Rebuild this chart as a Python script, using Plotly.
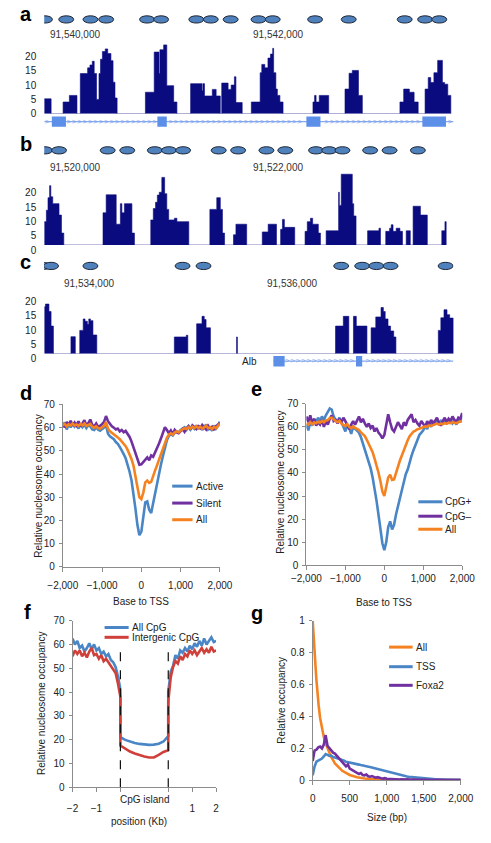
import plotly.graph_objects as go
import numpy as np

W, H = 491, 843
FONT = "Liberation Sans, Arial, sans-serif"
TXT = "#222222"
AXC = "#8c8c8c"
NAVY = "#0b0b80"
NUC_FILL = "#4f81bd"
NUC_LINE = "#1f2633"
EXON_C = "#5b8fe8"
INTRON_C = "#86aaf0"
BLUE = "#4a86c5"
PURPLE = "#7030a0"
ORANGE = "#f58220"
RED = "#d0403a"
LW = 2.6

# ======================= DATA =======================
# --- panel a : nucleosome read depth, chr position offsets (bp) from A_BASE
A_BASE = 91_540_000
a_edges = [-307, -239, -121, -59, 16, 49, 121, 144, 167, 186, 209, 233, 248, 267, 295, 319, 351, 372, 391, 412,
           691, 778, 825, 834, 871, 902, 970, 1002, 1137, 1249, 1258, 1274, 1351, 1389, 1430, 1444, 1507, 1537,
           1569, 1584, 1646, 1736, 1823, 1839, 1869, 1900, 1925, 1947, 1956, 1978, 1993, 2018, 2049, 2344, 2360,
           2375, 2406, 2499, 2660, 2700, 2732, 2793, 2831, 3202, 3239, 3295, 3342, 3382, 3450, 3481, 3506, 3537,
           3574, 3621, 3643, 3674, 3704]
a_heights = [5.2, 0, 4.1, 6.4, 0, 14, 16, 17, 18.3, 14, 5, 14, 19, 21.7, 22.6, 21, 18.5, 11, 5.5, 0,
             7.5, 21.5, 14, 22.3, 24, 9.8, 4.1, 0, 10.5, 8, 10.5, 6.2, 8.5, 6.2, 0, 10.7, 8.5, 10,
             12.9, 3.9, 0, 4.1, 14.3, 17.2, 16, 19.4, 20.8, 22.8, 14.3, 8.6, 6.4, 4.1, 0, 4.1, 6.4,
             4.1, 6.4, 0, 8.6, 14.1, 15.1, 6.4, 0, 4.1, 8.6, 7.5, 4.1, 0, 8.6, 12.6, 10.9, 14.3,
             18.6, 10.9, 10.3, 6.4]
a_nucleosomes = [-300, -90, 149, 304, 707, 846, 1193, 1336, 1532, 1807, 1947, 2365, 2697, 3249, 3450, 3590]
a_gene = [-307, 3730]
a_exon_start = [-232, 809, 2279, 3423]
a_exon_end = [-93, 902, 2418, 3656]

# --- panel b
B_BASE = 91_520_000
b_edges = [-307, -286, -270, -254, -242, -223, -161, -137, -114, 273, 304, 403, 444, 459, 484, 558, 583,
           744, 769, 791, 809, 828, 853, 881, 902, 921, 977, 1002, 1119, 1327, 1395, 1430, 1451, 1472,
           1560, 1584, 1690, 1844, 1902, 1984, 2025, 2043, 2062, 2164, 2266, 2288, 2319, 2341, 2397, 2418,
           2474, 2597, 2604, 2623, 2732, 2746, 2769, 2883, 2995, 3010, 3062, 3100, 3116, 3134, 3165, 3202,
           3227, 3264, 3304, 3332, 3404, 3472, 3615, 3646, 3658]
b_heights = [8.2, 12.2, 16.6, 20.8, 16.9, 14.5, 10.5, 4.2, 0, 11.3, 17.6, 7.3, 14.5, 11.3, 14.5, 4.2, 0,
             8.8, 12.8, 15, 17.5, 18.5, 23.7, 18, 12.5, 8.8, 9.4, 8.2, 0, 12.5, 16.6, 12.5, 4.2, 0,
             3.6, 7.3, 0, 4.6, 7.3, 0, 5.5, 9, 6.2, 0, 4.8, 8.2, 9.4, 7.3, 4.2, 0,
             5, 18.5, 13.9, 24.8, 14.5, 10.2, 0, 5, 5.9, 0, 4.8, 5.9, 7.1, 4.8, 5.9, 4.8,
             0, 5, 0, 13.6, 10.5, 0, 5, 8.2]
b_nucleosomes = [-300, -161, 319, 512, 784, 923, 1063, 1414, 1606, 1885, 2071, 2374, 2504, 2635, 2908, 3100, 3379]

# --- panel c
C_BASE = 91_534_000
c_edges = [-446, -434, -400, -379, -356, -183, -140, -96, -62, -44, -21, -7, 9, 34, 72, 837, 955, 970,
           1057, 1110, 1132, 1150, 1193, 1451, 1459, 2427, 2504, 2558, 2604, 2632, 2737, 2778, 2824, 2876,
           2899, 2917, 2945, 2970, 3001, 3023, 3441, 3466, 3497, 3527, 3553, 3590]
c_heights = [16.5, 17.4, 14.8, 9.7, 0, 6, 0, 8.2, 12.2, 11.4, 10.3, 12.2, 11.6, 6.6, 0, 5.9, 6.5,
             0, 10.5, 13.1, 12, 9.1, 0, 5.9, 0, 9.7, 13.1, 0, 13.1, 9.7, 0, 9.1, 12.9, 16.2,
             14.8, 12.2, 9.7, 8, 5.9, 0, 8.2, 12.6, 15.4, 13.7, 12.5]
c_nucleosomes = [-462, -379, 9, 918, 1125, 2483, 2690, 2830, 2970, 3513]
c_gene = [1814, 3590]
c_exon_start = [1814, 2629]
c_exon_end = [1925, 2690]
c_gene_name = "Alb"

track_ticks = [0, 5, 10, 15, 20]
NUC_BP = 147

# --- panels d / e : occupancy around TSS
tss_x = list(range(-2000, 2001, 50))
d_active = [60.5, 62.3, 59.2, 61.6, 60.1, 62.0, 60.4, 61.2, 59.6, 61.8,
            60.2, 61.3, 59.8, 61.0, 60.6, 59.3, 59.0, 60.2, 59.1, 58.7,
            59.4, 60.0, 61.2, 57.4, 56.3, 55.6, 55.0, 53.8, 53.0, 51.7,
            50.4, 48.6, 46.8, 44.2, 41.0, 37.2, 32.0, 25.0, 18.0, 13.6,
            15.2, 21.5, 27.8, 28.2, 24.6, 23.2, 27.5, 32.5, 36.8, 40.6,
            44.2, 47.8, 51.5, 54.6, 56.4, 57.2, 56.6, 57.8, 58.4, 57.9,
            59.0, 59.6, 60.2, 59.1, 60.6, 59.2, 60.4, 59.5, 61.0, 59.4,
            60.9, 59.0, 60.1, 61.4, 59.2, 60.0, 58.6, 61.0, 59.6, 60.8,
            62.6]
d_silent = [61.5, 60.2, 62.5, 61.0, 63.0, 60.8, 62.2, 61.0, 62.8, 60.5,
            61.8, 63.2, 61.0, 62.0, 63.5, 61.2, 60.5, 61.8, 60.2, 60.8,
            61.5, 62.5, 65.0, 62.8, 61.5, 60.6, 60.0, 59.2, 59.6, 58.4,
            59.0, 58.0, 58.6, 57.4, 56.0, 54.0, 51.6, 48.8, 46.2, 44.0,
            44.2, 45.2, 46.4, 47.2, 46.0, 48.0, 47.4, 49.2, 51.0, 53.2,
            55.4, 57.8, 60.2, 59.0, 57.6, 58.8, 57.2, 59.0, 58.0, 57.6,
            58.6, 59.4, 58.2, 59.8, 60.6, 59.2, 61.0, 60.0, 59.4, 60.6,
            59.8, 61.2, 60.0, 59.2, 60.8, 59.6, 60.4, 59.0, 60.6, 61.4,
            62.0]
d_all = [61.0, 61.6, 60.6, 61.4, 61.0, 61.8, 61.0, 61.4, 60.8, 61.6,
         61.0, 61.8, 60.8, 61.2, 61.6, 60.4, 60.0, 60.6, 59.8, 59.6,
         60.2, 60.8, 62.4, 59.6, 58.4, 57.8, 57.2, 56.4, 55.8, 55.0,
         54.0, 53.0, 52.0, 50.4, 48.6, 46.4, 43.6, 39.6, 34.4, 30.0,
         29.2, 32.0, 36.4, 37.2, 36.2, 36.6, 39.4, 41.6, 43.8, 46.2,
         48.6, 51.0, 53.4, 55.6, 57.0, 57.6, 57.0, 58.0, 58.4, 58.0,
         58.8, 59.4, 59.8, 59.4, 60.2, 59.6, 60.4, 59.8, 60.6, 59.8,
         60.4, 59.6, 60.2, 60.8, 59.8, 60.2, 59.4, 60.4, 59.8, 60.6,
         61.8]
e_cpg_pos = [61.0, 58.5, 62.0, 60.5, 63.5, 62.0, 64.0, 62.5, 64.5, 63.0,
             65.0, 66.5, 68.0, 67.5, 64.5, 63.0, 62.5, 64.0, 61.5, 60.0,
             58.0, 61.0, 59.5, 57.0, 60.0, 59.0, 58.0, 57.5, 55.5, 53.0,
             50.5, 47.5, 45.0, 42.0, 38.0, 33.5, 28.0, 22.0, 15.5, 9.5,
             6.5, 10.0, 16.5, 19.0, 15.5, 17.5, 22.0, 26.0, 28.5, 32.5,
             36.0, 39.5, 41.5, 45.0, 47.5, 50.0, 52.5, 55.0, 56.5, 57.5,
             58.5, 60.5, 59.0, 61.5, 60.0, 62.5, 61.0, 63.0, 61.5, 62.5,
             61.0, 63.0, 61.5, 62.0, 63.5, 61.5, 62.5, 61.0, 63.0, 62.0,
             65.0]
e_cpg_neg = [64.5, 62.0, 65.0, 61.5, 63.5, 60.5, 62.0, 61.0, 63.0, 60.0,
             62.5, 61.0, 63.5, 65.0, 62.5, 63.0, 61.5, 63.5, 62.0, 64.0,
             62.5, 60.5, 59.0, 61.0, 62.5, 61.0, 63.0, 64.5, 62.0, 63.5,
             61.5, 60.0, 61.5, 59.5, 60.5, 58.0, 59.5, 57.5, 56.5, 55.0,
             56.5, 60.5, 65.5, 62.0, 59.0, 58.0, 60.5, 62.0, 60.5, 59.0,
             62.0, 60.5, 63.0, 64.5, 65.5, 62.0, 63.0, 61.5, 60.5, 62.5,
             61.0, 60.0, 62.5, 61.0, 63.0, 61.5, 62.5, 64.0, 62.0, 60.5,
             62.5, 64.0, 62.0, 63.5, 62.5, 64.5, 63.0, 62.0, 64.0, 63.5,
             66.0]
e_all = [61.5, 61.0, 62.0, 61.2, 62.0, 61.6, 62.2, 61.8, 62.6, 62.0,
         62.8, 63.0, 63.8, 64.0, 63.2, 62.6, 62.0, 62.6, 61.4, 60.8,
         60.4, 61.2, 60.0, 59.4, 60.2, 59.6, 59.0, 58.6, 57.6, 56.6,
         56.0, 54.4, 52.8, 51.0, 49.0, 46.2, 43.6, 40.2, 36.4, 32.0,
         30.0, 33.6, 38.0, 39.2, 37.0, 37.2, 40.2, 43.0, 45.4, 47.6,
         50.0, 52.2, 54.2, 56.0, 57.2, 58.0, 58.4, 59.0, 59.2, 59.6,
         59.8, 60.2, 60.0, 60.6, 60.4, 60.8, 61.0, 61.4, 61.0, 61.4,
         61.2, 61.6, 61.4, 61.8, 61.6, 62.0, 61.8, 61.6, 62.0, 62.2,
         62.6]

# --- panel f : occupancy around CpG islands (flanks in kb, island as fraction of its length)
f_left_kb = [-2.0, -1.9, -1.8, -1.7, -1.6, -1.5, -1.4, -1.3, -1.2, -1.1, -1.0,
             -0.9, -0.8, -0.7, -0.6, -0.5, -0.4, -0.3, -0.2, -0.1, 0.0]
f_island_frac = [0.0, 0.1, 0.2, 0.3, 0.4, 0.5, 0.6, 0.7, 0.8, 0.9, 1.0]
f_right_kb = [0.0, 0.1, 0.2, 0.3, 0.4, 0.5, 0.6, 0.7, 0.8, 0.9, 1.0,
              1.1, 1.2, 1.3, 1.4, 1.5, 1.6, 1.7, 1.8, 1.9, 2.0]
f_all_left = [62.5, 60.0, 61.5, 58.5, 59.5, 57.0, 58.5, 60.5, 58.0, 60.0, 57.5,
              58.5, 56.0, 57.0, 55.0, 56.0, 53.5, 52.5, 50.5, 46.5, 41.0]
f_all_island = [21.0, 19.9, 19.2, 18.6, 18.2, 17.9, 17.8, 17.9, 18.3, 19.2, 21.5]
f_all_right = [40.0, 48.5, 51.0, 55.5, 54.0, 57.5, 56.5, 58.5, 57.0, 59.5, 58.0,
               60.5, 59.0, 61.5, 59.5, 62.5, 60.0, 61.5, 63.0, 61.0, 61.5]
f_int_left = [55.0, 57.5, 56.0, 57.5, 55.0, 56.5, 54.5, 57.0, 58.5, 55.5, 56.0,
              54.0, 55.5, 53.0, 54.0, 52.5, 51.0, 49.5, 48.0, 43.5, 38.0]
f_int_island = [17.5, 16.2, 15.0, 14.2, 13.4, 12.9, 12.5, 12.5, 13.6, 14.8, 15.6]
f_int_right = [36.0, 46.0, 50.5, 53.0, 52.0, 55.0, 53.5, 56.0, 55.0, 57.5, 56.0,
               57.5, 55.5, 57.0, 58.5, 56.5, 58.0, 56.5, 59.0, 57.0, 57.5]

# --- panel g : fragment size distributions
g_all_x = [0, 10, 20, 30, 40, 50, 60, 80, 100, 125, 150, 175, 200, 250, 300, 350, 400,
           500, 600, 700, 800, 1000, 1200, 1500, 2000]
g_all = [1.0, 0.9, 0.84, 0.78, 0.7, 0.63, 0.56, 0.47, 0.39, 0.32, 0.27, 0.23, 0.2, 0.145, 0.105,
         0.078, 0.058, 0.032, 0.018, 0.01, 0.006, 0.003, 0.0015, 0.0007, 0.0]
g_x = list(range(0, 2001, 25))
g_tss = [0.03, 0.085, 0.115, 0.12, 0.128, 0.135, 0.148, 0.163, 0.158, 0.152,
         0.154, 0.145, 0.142, 0.138, 0.135, 0.133, 0.125, 0.122, 0.115, 0.113,
         0.11, 0.108, 0.104, 0.102, 0.1, 0.097, 0.094, 0.092, 0.091, 0.086,
         0.087, 0.083, 0.079, 0.076, 0.073, 0.068, 0.065, 0.061, 0.058, 0.054,
         0.051, 0.049, 0.046, 0.044, 0.041, 0.038, 0.035, 0.031, 0.029, 0.027,
         0.024, 0.022, 0.02, 0.019, 0.016, 0.014, 0.013, 0.012, 0.01, 0.009,
         0.008, 0.008, 0.007, 0.007, 0.006, 0.006, 0.005, 0.005, 0.004, 0.004,
         0.003, 0.003, 0.003, 0.002, 0.002, 0.002, 0.001, 0.001, 0.001, 0.001,
         0.001]
g_foxa2 = [0.12, 0.185, 0.19, 0.205, 0.21, 0.198, 0.222, 0.282, 0.215, 0.198,
           0.188, 0.172, 0.166, 0.152, 0.142, 0.13, 0.112, 0.1, 0.086, 0.098,
           0.072, 0.066, 0.058, 0.05, 0.047, 0.038, 0.044, 0.032, 0.03, 0.035,
           0.024, 0.021, 0.025, 0.018, 0.015, 0.018, 0.012, 0.011, 0.009, 0.012,
           0.008, 0.007, 0.009, 0.006, 0.005, 0.006, 0.004, 0.004, 0.005, 0.003,
           0.003, 0.004, 0.002, 0.002, 0.003, 0.002, 0.001, 0.002, 0.001, 0.001,
           0.002, 0.001, 0.001, 0.001, 0.0, 0.001, 0.0, 0.001, 0.0, 0.0,
           0.001, 0.0, 0.0, 0.0, 0.0, 0.0, 0.0, 0.0, 0.0, 0.0,
           0.0]

# ======================= LAYOUT HELPERS =======================
def fx(p):
    return p / W

def fy(p):
    return 1 - p / H

def xdom(a, b):
    return [a / W, b / W]

def ydom(top, bot):
    return [1 - bot / H, 1 - top / H]

TICKFONT = dict(family=FONT, size=10, color=TXT)
BP_PER_PX = 2000 / 215.0
TRACK_L, TRACK_R = 31, 465

fig = go.Figure()
layout = dict(width=W, height=H, margin=dict(l=0, r=0, t=0, b=0, pad=0),
              paper_bgcolor="white", plot_bgcolor="white", showlegend=False,
              font=dict(family=FONT, size=10, color=TXT))
shapes, annotations = [], []

tracks = [
    dict(key="a", base=A_BASE, base_px=64, edges=a_edges, heights=a_heights, nucs=a_nucleosomes,
         xa="x", ya="y", ga="y2", baseline=110, unit=2.93, ymax=25, shift=0, nuc_y=13.7, lab_y=29,
         gene=a_gene, ex0=a_exon_start, ex1=a_exon_end, gene_y=118, name=None),
    dict(key="b", base=B_BASE, base_px=64, edges=b_edges, heights=b_heights, nucs=b_nucleosomes,
         xa="x2", ya="y3", ga=None, baseline=244, unit=2.915, ymax=25.5, shift=5, nuc_y=147.3, lab_y=165,
         gene=None),
    dict(key="c", base=C_BASE, base_px=79, edges=c_edges, heights=c_heights, nucs=c_nucleosomes,
         xa="x3", ya="y4", ga="y5", baseline=355, unit=2.92, ymax=21, shift=5, nuc_y=265.3, lab_y=283.3,
         gene=c_gene, ex0=c_exon_start, ex1=c_exon_end, gene_y=362.5, name=c_gene_name),
]

def axkey(a):
    return a[0] + "axis" + a[1:]

for t in tracks:
    base = t["base"]
    xr = [base + (TRACK_L - t["base_px"]) * BP_PER_PX, base + (TRACK_R - t["base_px"]) * BP_PER_PX]
    layout[axkey(t["xa"])] = dict(domain=xdom(TRACK_L, TRACK_R), range=xr, visible=False,
                                  anchor=t["ya"], fixedrange=True)
    top = t["baseline"] - t["ymax"] * t["unit"]
    layout[axkey(t["ya"])] = dict(domain=ydom(top, t["baseline"]), range=[0, t["ymax"]], anchor=t["xa"],
                                  showgrid=False, zeroline=False, showline=False, ticks="",
                                  tickvals=track_ticks, tickfont=TICKFONT, ticklabelstandoff=7,
                                  ticklabelshift=int(t["shift"]))
    xs = [base + e for e in t["edges"]]
    ys = list(t["heights"]) + [0]
    fig.add_trace(go.Scatter(x=xs, y=ys, mode="lines", line_shape="hv", fill="tozeroy",
                             fillcolor=NAVY, line=dict(color=NAVY, width=0.6),
                             xaxis=t["xa"], yaxis=t["ya"], hoverinfo="skip"))
    for c in t["nucs"]:
        shapes.append(dict(type="circle", xref=t["xa"], yref="paper",
                           x0=base + c - NUC_BP / 2, x1=base + c + NUC_BP / 2,
                           y0=fy(t["nuc_y"] + 3.7), y1=fy(t["nuc_y"] - 3.7),
                           fillcolor=NUC_FILL, line=dict(color=NUC_LINE, width=1)))
    for off in (0, 2000):
        annotations.append(dict(xref=t["xa"], yref="paper", x=base + off, y=fy(t["lab_y"]),
                                text=f"{base + off:,}", showarrow=False, xanchor="center",
                                yanchor="middle", font=dict(family=FONT, size=10, color="#333")))
    if t["gene"] is not None:
        ga = t["ga"]
        layout[axkey(ga)] = dict(domain=ydom(t["gene_y"] - 6.5, t["gene_y"] + 6.5), range=[-1, 1],
                                 visible=False, anchor=t["xa"], fixedrange=True)
        g0, g1 = base + t["gene"][0], base + t["gene"][1]
        fig.add_trace(go.Scatter(x=[g0, g1], y=[0, 0], mode="lines",
                                 line=dict(color=INTRON_C, width=1.2),
                                 xaxis=t["xa"], yaxis=ga, hoverinfo="skip"))
        ex0 = [base + v for v in t["ex0"]]
        ex1 = [base + v for v in t["ex1"]]
        chev = [float(v) for v in np.arange(g0 + 30, g1 - 10, 53)
                if not any(a - 20 <= v <= b + 20 for a, b in zip(ex0, ex1))]
        fig.add_trace(go.Scatter(x=chev, y=[0] * len(chev), mode="text", text=[">"] * len(chev),
                                 textfont=dict(family=FONT, size=8, color="#7ea3ec"),
                                 xaxis=t["xa"], yaxis=ga, hoverinfo="skip"))
        for a, b in zip(ex0, ex1):
            shapes.append(dict(type="rect", xref=t["xa"], yref=ga, x0=a, x1=b, y0=-0.82, y1=0.82,
                               fillcolor=EXON_C, line=dict(width=0), layer="above"))
        if t.get("name"):
            annotations.append(dict(xref=t["xa"], yref="paper", x=g0, y=fy(t["gene_y"]),
                                    text=t["name"], showarrow=False, xanchor="right", xshift=-14,
                                    yanchor="middle", font=dict(family=FONT, size=10, color="#222")))

# ---------------- line-chart panels ----------------
def chart_axes(xa, ya, xd, yd, xr, yr, xt, yt, xtext=None, xfmt=None, xstand=0, ystand=2):
    xax = dict(domain=xd, range=xr, anchor=ya, showline=True, linecolor=AXC, linewidth=1,
               ticks="outside", ticklen=4, tickcolor=AXC, tickwidth=1, showgrid=False, zeroline=False,
               tickvals=xt, tickfont=TICKFONT, ticklabelstandoff=int(xstand), fixedrange=True)
    if xtext is not None:
        xax["ticktext"] = xtext
    if xfmt:
        xax["tickformat"] = xfmt
    yax = dict(domain=yd, range=yr, anchor=xa, showline=True, linecolor=AXC, linewidth=1,
               ticks="outside", ticklen=3, tickcolor=AXC, tickwidth=1, showgrid=False, zeroline=False,
               tickvals=yt, tickfont=TICKFONT, ticklabelstandoff=int(ystand), fixedrange=True)
    layout[axkey(xa)] = xax
    layout[axkey(ya)] = yax

occ_ticks = [0, 10, 20, 30, 40, 50, 60, 70]
tss_ticks = [-2000, -1000, 0, 1000, 2000]

chart_axes("x4", "y6", xdom(50.7, 217.3), ydom(406.7, 572.3), [-2000, 2000], [0, 70],
           tss_ticks, occ_ticks, xfmt=",", xstand=5)
for y, col in ((d_active, BLUE), (d_silent, PURPLE), (d_all, ORANGE)):
    fig.add_trace(go.Scatter(x=tss_x, y=y, mode="lines", line=dict(color=col, width=LW),
                             xaxis="x4", yaxis="y6", hoverinfo="skip"))

chart_axes("x5", "y7", xdom(309, 474.3), ydom(406, 570.7), [-2000, 2000], [0, 70],
           tss_ticks, occ_ticks, xfmt=",", xstand=0)
for y, col in ((e_cpg_pos, BLUE), (e_cpg_neg, PURPLE), (e_all, ORANGE)):
    fig.add_trace(go.Scatter(x=tss_x, y=y, mode="lines", line=dict(color=col, width=LW),
                             xaxis="x5", yaxis="y7", hoverinfo="skip"))

ISL = 2.0
f_x = f_left_kb + [ISL * v for v in f_island_frac] + [ISL + v for v in f_right_kb]
chart_axes("x6", "y8", xdom(61, 213.3), ydom(627.3, 797.3), [-2, 4], [0, 70],
           [-2, -1, 0, ISL, ISL + 1, ISL + 2], occ_ticks,
           xtext=["\u22122", "\u22121", "", "", "1", "2"], xstand=8)
for y, col in ((f_all_left + f_all_island + f_all_right, BLUE),
               (f_int_left + f_int_island + f_int_right, RED)):
    fig.add_trace(go.Scatter(x=f_x, y=y, mode="lines", line=dict(color=col, width=LW),
                             xaxis="x6", yaxis="y8", hoverinfo="skip"))
for xb in (0, ISL):
    shapes.append(dict(type="line", xref="x6", yref="y8", x0=xb, x1=xb, y0=0, y1=60,
                       line=dict(color="#111", width=1.2, dash="dash")))
annotations.append(dict(xref="x6", yref="paper", x=ISL / 2, y=fy(817.3), text="CpG island",
                        showarrow=False, font=dict(family=FONT, size=10, color=TXT)))

chart_axes("x7", "y9", xdom(315.7, 472.7), ydom(627.3, 790), [0, 2000], [0, 1],
           [0, 500, 1000, 1500, 2000], [0, 0.2, 0.4, 0.6, 0.8, 1], xfmt=",", xstand=5)
fig.add_trace(go.Scatter(x=g_all_x, y=g_all, mode="lines", line=dict(color=ORANGE, width=LW),
                         xaxis="x7", yaxis="y9", hoverinfo="skip"))
for y, col in ((g_tss, BLUE), (g_foxa2, PURPLE)):
    fig.add_trace(go.Scatter(x=g_x, y=y, mode="lines", line=dict(color=col, width=LW),
                             xaxis="x7", yaxis="y9", hoverinfo="skip"))

# ---------------- titles, panel letters, legends ----------------
def txt(x, y, s, size=10, anchor="center", angle=0, bold=False, color=TXT):
    annotations.append(dict(xref="paper", yref="paper", x=fx(x), y=fy(y), text=f"<b>{s}</b>" if bold else s,
                            showarrow=False, xanchor=anchor, yanchor="middle", textangle=angle,
                            font=dict(family=FONT, size=size, color=color)))

for letter, lx, ly in (("a", 3, 8), ("b", 3, 141.3), ("c", 3, 261), ("d", 3, 395),
                       ("e", 248, 391), ("f", 7, 618), ("g", 248, 620)):
    txt(lx, ly, letter, size=20, anchor="left", bold=True, color="#000")

txt(24, 490, "Relative nucleosome occupancy", angle=-90)
txt(281.7, 486, "Relative nucleosome occupancy", angle=-90)
txt(28.3, 711.7, "Relative nucleosome occupancy", angle=-90)
txt(281.7, 708.3, "Relative occupancy", angle=-90)
txt(134, 608, "Base to TSS")
txt(391.7, 608.3, "Base to TSS")
txt(131.3, 832.7, "position (Kb)")
txt(394, 828.3, "Size (bp)")

legends = [
    (166.7, 188.3, [(490, BLUE, "Active"), (507.3, PURPLE, "Silent"), (524.3, ORANGE, "All")]),
    (427.7, 453.3, [(506, BLUE, "CpG+"), (520.7, PURPLE, "CpG\u2013"), (534, ORANGE, "All")]),
    (95, 120.5, [(634.3, BLUE, "All CpG"), (644.3, RED, "Intergenic CpG")]),
    (396.7, 421.7, [(654.3, ORANGE, "All"), (674.3, BLUE, "TSS"), (693.3, PURPLE, "Foxa2")]),
]
for x0, x1, items in legends:
    for ly, col, label in items:
        shapes.append(dict(type="line", xref="paper", yref="paper", x0=fx(x0), x1=fx(x1),
                           y0=fy(ly), y1=fy(ly), line=dict(color=col, width=3)))
        txt(x1 + 1, ly, label, anchor="left")

layout["shapes"] = shapes
layout["annotations"] = annotations
fig.update_layout(**layout)
fig.write_html("out.html", config={"displayModeBar": False},
               post_script="document.body.style.margin='0';document.body.style.padding='0';"
                           "document.documentElement.style.overflow='hidden';")
